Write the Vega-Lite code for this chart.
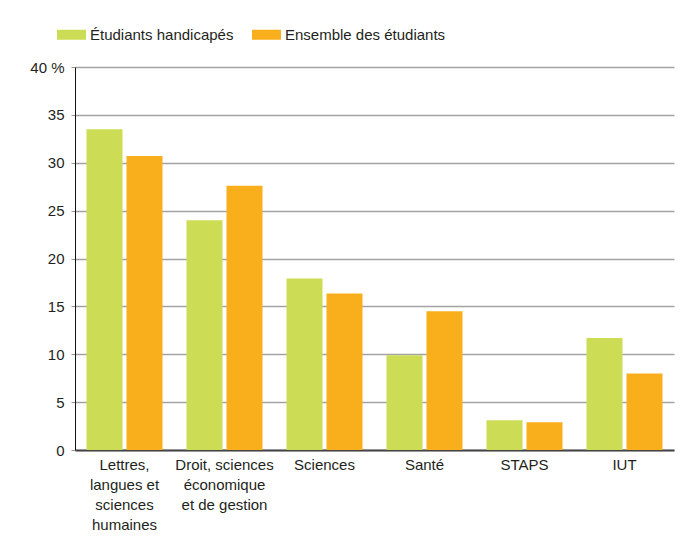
{
  "$schema": "https://vega.github.io/schema/vega-lite/v6.json",
  "width": 599,
  "height": 383,
  "autosize": {"type": "none"},
  "padding": {"left": 75, "top": 67, "right": 20, "bottom": 89},
  "background": "white",
  "config": {
    "font": "Liberation Sans Narrow, Arial Narrow, Liberation Sans, sans-serif",
    "view": {"stroke": null}
  },
  "data": {
    "values": [
      {"filiere": "Lettres,|langues et|sciences|humaines", "serie": "Étudiants handicapés", "pct": 33.5},
      {"filiere": "Lettres,|langues et|sciences|humaines", "serie": "Ensemble des étudiants", "pct": 30.7},
      {"filiere": "Droit, sciences|économique|et de gestion", "serie": "Étudiants handicapés", "pct": 24.0},
      {"filiere": "Droit, sciences|économique|et de gestion", "serie": "Ensemble des étudiants", "pct": 27.6},
      {"filiere": "Sciences", "serie": "Étudiants handicapés", "pct": 17.9},
      {"filiere": "Sciences", "serie": "Ensemble des étudiants", "pct": 16.35},
      {"filiere": "Santé", "serie": "Étudiants handicapés", "pct": 9.9},
      {"filiere": "Santé", "serie": "Ensemble des étudiants", "pct": 14.5},
      {"filiere": "STAPS", "serie": "Étudiants handicapés", "pct": 3.1},
      {"filiere": "STAPS", "serie": "Ensemble des étudiants", "pct": 2.9},
      {"filiere": "IUT", "serie": "Étudiants handicapés", "pct": 11.7},
      {"filiere": "IUT", "serie": "Ensemble des étudiants", "pct": 8.0}
    ]
  },
  "mark": {"type": "bar"},
  "encoding": {
    "x": {
      "field": "filiere",
      "type": "nominal",
      "sort": null,
      "scale": {"paddingInner": 0.24, "paddingOuter": 0.115},
      "axis": {
        "title": null,
        "labelAngle": 0,
        "labelExpr": "split(datum.label, '|')",
        "labelFontSize": 15,
        "labelColor": "#231f20",
        "labelPadding": 7,
        "labelLineHeight": 20,
        "labelBaseline": "top",
        "labelLimit": 200,
        "ticks": false,
        "domainColor": "#444444",
        "domainWidth": 2
      }
    },
    "xOffset": {
      "field": "serie",
      "type": "nominal",
      "sort": ["Étudiants handicapés", "Ensemble des étudiants"],
      "scale": {"paddingInner": 0.1}
    },
    "y": {
      "field": "pct",
      "type": "quantitative",
      "scale": {"domain": [0, 40], "nice": false},
      "axis": {
        "title": null,
        "values": [0, 5, 10, 15, 20, 25, 30, 35, 40],
        "labelExpr": "datum.value == 40 ? '40 %' : datum.label",
        "labelFontSize": 15,
        "labelColor": "#231f20",
        "labelPadding": 7,
        "tickSize": 4,
        "tickColor": "#999999",
        "gridColor": "#a3a3a3",
        "gridWidth": 1.5,
        "domainColor": "#111111",
        "domainWidth": 1
      }
    },
    "color": {
      "field": "serie",
      "type": "nominal",
      "sort": ["Étudiants handicapés", "Ensemble des étudiants"],
      "scale": {"range": ["#cddc55", "#f9ae1b"]},
      "legend": {
        "title": null,
        "orient": "none",
        "legendX": -18,
        "legendY": -47,
        "direction": "horizontal",
        "symbolType": "M-1,-0.345H1V0.345H-1Z",
        "symbolSize": 841,
        "symbolStrokeWidth": 0,
        "labelFontSize": 15,
        "labelColor": "#231f20",
        "labelOffset": 4,
        "labelLimit": 300,
        "columnPadding": 18
      }
    }
  }
}
